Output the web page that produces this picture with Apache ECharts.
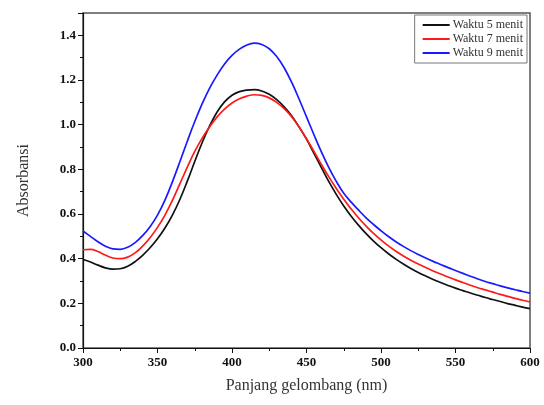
<!DOCTYPE html>
<html>
<head>
<meta charset="utf-8">
<script src="https://cdn.jsdelivr.net/npm/echarts@6/dist/echarts.min.js"></script>
<style>html,body{margin:0;padding:0;background:#fff}#c{width:544px;height:405px}</style>
</head>
<body>
<div id="c"></div>
<script>
var wavelength = [300,305,310,315,320,325,330,335,340,345,350,355,360,365,370,375,380,385,390,395,400,405,410,415,420,425,430,435,440,445,450,455,460,465,470,475,480,485,490,495,500,505,510,515,520,525,530,535,540,545,550,555,560,565,570,575,580,585,590,595,600];
var waktu5 = [0.396,0.385,0.371,0.359,0.353,0.355,0.366,0.387,0.415,0.449,0.489,0.537,0.595,0.665,0.747,0.835,0.920,0.995,1.057,1.102,1.132,1.148,1.155,1.157,1.151,1.136,1.112,1.080,1.040,0.990,0.935,0.872,0.808,0.745,0.688,0.636,0.590,0.549,0.512,0.479,0.449,0.422,0.398,0.376,0.356,0.338,0.322,0.307,0.293,0.280,0.268,0.257,0.246,0.236,0.226,0.217,0.208,0.199,0.191,0.183,0.176];
var waktu7 = [0.440,0.442,0.432,0.416,0.403,0.400,0.407,0.426,0.456,0.494,0.540,0.595,0.661,0.735,0.810,0.880,0.940,0.990,1.035,1.070,1.097,1.116,1.128,1.134,1.131,1.120,1.100,1.072,1.036,0.990,0.937,0.880,0.822,0.766,0.714,0.666,0.622,0.582,0.546,0.513,0.484,0.457,0.433,0.412,0.393,0.376,0.360,0.345,0.331,0.318,0.305,0.293,0.281,0.270,0.260,0.250,0.240,0.231,0.222,0.214,0.206];
var waktu9 = [0.524,0.500,0.476,0.456,0.444,0.442,0.451,0.472,0.503,0.543,0.595,0.662,0.744,0.834,0.926,1.014,1.094,1.164,1.222,1.272,1.310,1.338,1.357,1.365,1.359,1.340,1.305,1.255,1.190,1.115,1.035,0.955,0.878,0.808,0.746,0.693,0.653,0.617,0.583,0.553,0.525,0.499,0.476,0.455,0.436,0.419,0.403,0.388,0.374,0.360,0.347,0.334,0.321,0.309,0.298,0.288,0.278,0.269,0.261,0.253,0.246];
var seriesNames = ['Waktu 5 menit','Waktu 7 menit','Waktu 9 menit'];
var seriesColors = ['#111111','#ff1a1a','#1a1aff'];

function pairs(ys){ return wavelength.map(function(x,i){ return [x, ys[i]]; }); }
var allData = [waktu5, waktu7, waktu9];

var chart = echarts.init(document.getElementById('c'), null, {renderer:'canvas'});
var font = '"Liberation Serif","Times New Roman",serif';
chart.setOption({
  animation:false,
  backgroundColor:'#fff',
  grid:{left:83,right:14,top:13,bottom:57,show:true,borderColor:'#555',borderWidth:1.5,backgroundColor:'transparent'},
  legend:{
    show:true, right:17, top:15, orient:'vertical', itemGap:2,
    itemWidth:27, itemHeight:2, icon:'rect',
    padding:[4,4,4,8],
    borderColor:'#777', borderWidth:1,
    textStyle:{fontFamily:font,fontSize:12,color:'#333',padding:[0,0,0,-2]},
    data:seriesNames
  },
  xAxis:{
    type:'value', min:300, max:600, interval:50,
    name:'Panjang gelombang (nm)', nameLocation:'middle', nameGap:30,
    nameTextStyle:{fontFamily:font,fontSize:16,color:'#333'},
    axisLine:{show:true,onZero:false,lineStyle:{color:'#111',width:1.2}},
    axisTick:{show:true,inside:false,length:5,lineStyle:{color:'#111'}},
    minorTick:{show:true,splitNumber:2,length:3,lineStyle:{color:'#111'}},
    splitLine:{show:false},
    axisLabel:{fontFamily:font,fontSize:13,fontWeight:'bold',color:'#111',margin:8}
  },
  yAxis:{
    type:'value', min:0, max:1.5, interval:0.2,
    name:'Absorbansi', nameLocation:'middle', nameGap:51, nameRotate:90,
    nameTextStyle:{fontFamily:font,fontSize:16,color:'#333'},
    axisLine:{show:true,onZero:false,lineStyle:{color:'#111',width:1.2}},
    axisTick:{show:true,inside:false,length:5,lineStyle:{color:'#111'}},
    minorTick:{show:true,splitNumber:2,length:3,lineStyle:{color:'#111'}},
    splitLine:{show:false},
    axisLabel:{fontFamily:font,fontSize:13,fontWeight:'bold',color:'#111',margin:7,
      formatter:function(v){ return v>1.45 ? '' : v.toFixed(1); }}
  },
  series: allData.map(function(d,i){
    return {
      name:seriesNames[i], type:'line', data:pairs(d), smooth:0.4,
      showSymbol:false, symbol:'none',
      lineStyle:{color:seriesColors[i],width:1.7},
      itemStyle:{color:seriesColors[i]}
    };
  })
});
</script>
</body>
</html>
